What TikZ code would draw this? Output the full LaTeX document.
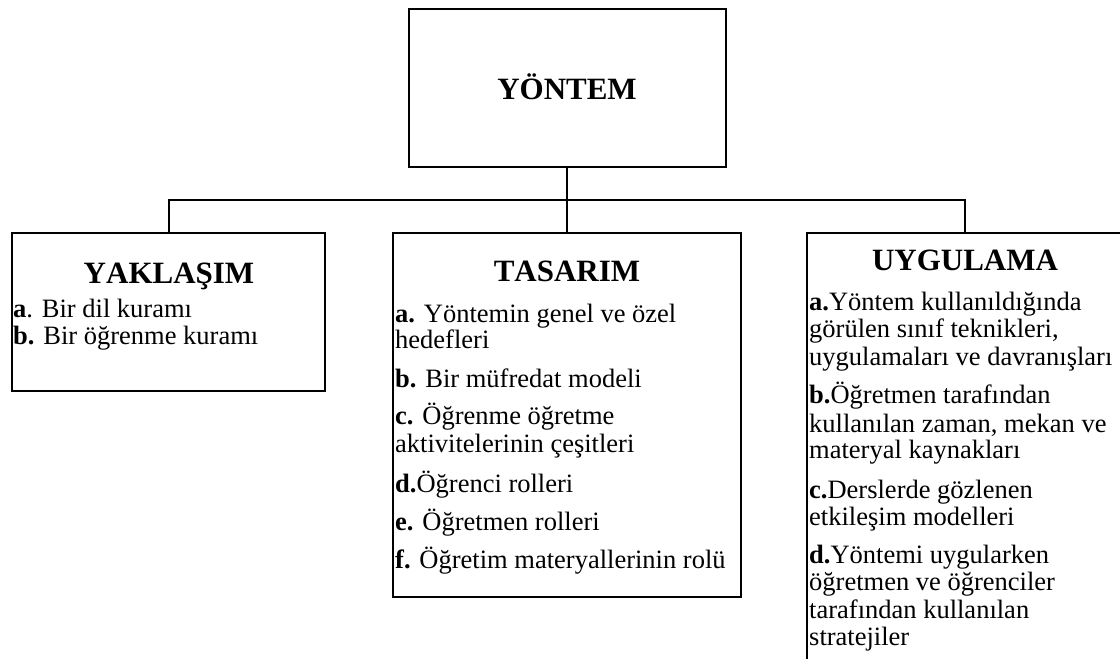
\documentclass[tikz,border=0pt]{standalone}
\usepackage{fontspec}
\setmainfont{Liberation Serif}
\begin{document}
\begin{tikzpicture}[x=1pt,y=-1pt,
  box/.style={draw, line width=2pt, inner sep=0pt},
  wire/.style={line width=2pt},
  head/.style={font=\bfseries\fontsize{31}{31}\selectfont\addfontfeature{Kerning=Off}, anchor=base, inner sep=0pt},
  txt/.style={font=\fontsize{26.5}{27}\selectfont, anchor=base west, inner sep=0pt}]
\useasboundingbox (0,0) rectangle (1120,659);
\clip (0,0) rectangle (1120,659);

% boxes
\node[box, minimum width=317pt, minimum height=158pt] (yontem) at (567,88) {};
\node[box, minimum width=313pt, minimum height=158pt] (yaklasim) at (168.5,312) {};
\node[box, minimum width=348pt, minimum height=364pt] (tasarim) at (567,415) {};
\node[box, minimum width=316pt, minimum height=466pt] (uygulama) at (965,466) {};

% connectors
\coordinate (bus) at (567,200);
\draw[wire] (yontem.south) -- (bus);
\draw[wire] (yaklasim.north) |- (bus) -| (uygulama.north);
\draw[wire] (bus) -- (tasarim.north);

% headings
\node[head] (hY) at (567,99) {YÖNTEM};
\node[head] (hA) at (169,283) {YAKLAŞIM};
\node[head] (hT) at (567,281) {TASARIM};
\node[head] (hU) at (965,270) {UYGULAMA};

% approach
\node[txt] (a1) at (13,317) {\textbf{a}. Bir dil kuramı};
\node[txt] (a2) at (13,344) {\textbf{b.} Bir öğrenme kuramı};

% design
\node[txt] (t1) at (395,322) {\textbf{a.} Yöntemin genel ve özel};
\node[txt] (t2) at (395,348) {hedefleri};
\node[txt] (t3) at (395,387) {\textbf{b.} Bir müfredat modeli};
\node[txt] (t4) at (395,424) {\textbf{c.} Öğrenme öğretme};
\node[txt] (t5) at (395,452) {aktivitelerinin çeşitleri};
\node[txt] (t6) at (395,492) {\textbf{d.}Öğrenci rolleri};
\node[txt] (t7) at (395,530) {\textbf{e.} Öğretmen rolleri};
\node[txt] (t8) at (395,568) {\textbf{f.} Öğretim materyallerinin rolü};

% procedure
\node[txt] (u1) at (809,310) {\textbf{a.}Yöntem kullanıldığında};
\node[txt] (u2) at (809,337) {görülen sınıf teknikleri,};
\node[txt] (u3) at (809,365) {uygulamaları ve davranışları};
\node[txt] (u4) at (809,403) {\textbf{b.}Öğretmen tarafından};
\node[txt] (u5) at (809,432) {kullanılan zaman, mekan ve};
\node[txt] (u6) at (809,458) {materyal kaynakları};
\node[txt] (u7) at (809,498) {\textbf{c.}Derslerde gözlenen};
\node[txt] (u8) at (809,525) {etkileşim modelleri};
\node[txt] (u9) at (809,563) {\textbf{d.}Yöntemi uygularken};
\node[txt] (u10) at (809,590) {öğretmen ve öğrenciler};
\node[txt] (u11) at (809,618) {tarafından kullanılan};
\node[txt] (u12) at (809,645) {stratejiler};
\end{tikzpicture}
\end{document}
